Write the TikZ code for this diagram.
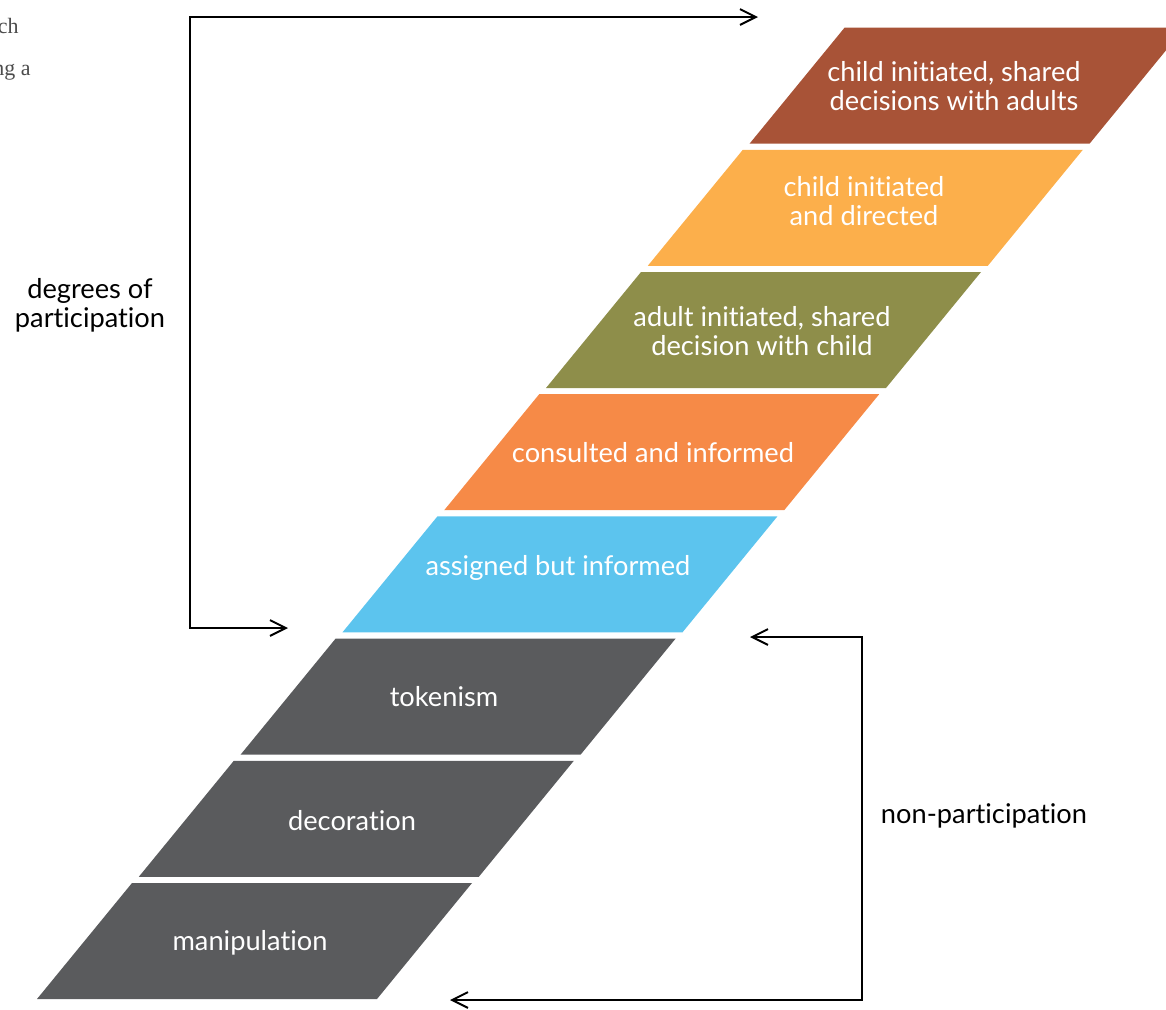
\documentclass[tikz,border=0pt]{standalone}
\usepackage{fontspec}
\setmainfont{Lato}[Ligatures=NoCommon]
\newfontfamily\pagefont{Liberation Serif}
\usetikzlibrary{arrows.meta}
\definecolor{rungbrown}{HTML}{A85337}
\definecolor{rungyellow}{HTML}{FCAF4B}
\definecolor{rungolive}{HTML}{8E8E4A}
\definecolor{rungorange}{HTML}{F68A47}
\definecolor{rungblue}{HTML}{5CC4EE}
\definecolor{runggrey}{HTML}{5A5B5D}
\begin{document}
\begin{tikzpicture}[x=0.02cm, y=-0.02cm,
  rung/.style={text=white, font=\fontsize{15.5}{16.5}\selectfont, align=center},
  side/.style={font=\fontsize{15.5}{16.5}\selectfont, align=center},
  bracket/.style={line width=1.1pt, {Straight Barb[length=9pt, width=9pt]}-{Straight Barb[length=9pt, width=9pt]}}]
  \useasboundingbox (0,0) rectangle (1166,1009);
  \clip (0,0) rectangle (1166,1009);
  % text of the page behind
  \node[anchor=base east, inner sep=0pt, text=black!70, font=\pagefont\fontsize{12.5}{15}\selectfont] (pg1) at (19,33) {ch};
  \node[anchor=base east, inner sep=0pt, text=black!70, font=\pagefont\fontsize{12.5}{15}\selectfont] (pg2) at (31,75) {ng a};
  % the ladder
  \foreach \k/\col/\tx/\ty/\txt [evaluate=\k as \bx using 37+101.8*\k,
                                 evaluate=\k as \by using 999-122.2*\k] in
    {0/runggrey/250/943/manipulation,
     1/runggrey/352/821/decoration,
     2/runggrey/444/697/tokenism,
     3/rungblue/558/568/assigned but informed,
     4/rungorange/653/453/consulted and informed,
     5/rungolive/762/331/{adult initiated, shared\\decision with child},
     6/rungyellow/864/201/{child initiated\\and directed},
     7/rungbrown/954/86/{child initiated, shared\\decisions with adults}}
  {
    \fill[\col] (\bx,\by) -- ++(340,0) -- ++(95,-116) -- ++(-340,0) -- cycle;
    \node[rung] (r\k) at (\tx,\ty) {\txt};
  }
  % brackets
  \coordinate (degtip) at (288,628);
  \coordinate (degbot) at (190,628);
  \coordinate (degtop) at (190,17);
  \coordinate (degend) at (758,17);
  \coordinate (nontip) at (750,637);
  \coordinate (nontop) at (862,637);
  \coordinate (nonbot) at (862,1000);
  \coordinate (nonend) at (450,1000);
  \draw[bracket] (degtip) -- (degbot) -- (degtop) -- (degend);
  \draw[bracket] (nontip) -- (nontop) -- (nonbot) -- (nonend);
  \node[side] (deg) at (90,305) {degrees of\\participation};
  \node[side] (non) at (984,816) {non-participation};
\end{tikzpicture}
\end{document}
